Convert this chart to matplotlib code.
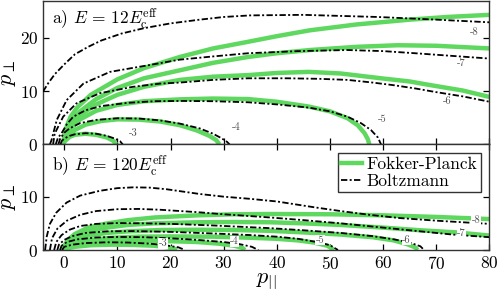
import matplotlib
matplotlib.use("Agg")
import matplotlib.pyplot as plt
import numpy as np
from matplotlib.lines import Line2D

plt.rcParams['font.family'] = ['cmr10', 'DejaVu Serif']
plt.rcParams['mathtext.fontset'] = 'cm'
plt.rcParams['axes.formatter.use_mathtext'] = True
plt.rcParams['axes.unicode_minus'] = False

# ---------------- data: panel a (E = 12 Ec_eff) ----------------
a_levels = [-3, -4, -5, -6, -7, -8]

a_bz_m3 = [(-0.7, 0), (-0.5, 0.6), (0, 1.1), (1, 1.6), (2, 1.9), (4, 2.1), (6, 2.0), (8, 1.6), (9.5, 1.1), (10.5, 0.6), (11.0, 0)]
a_bz_m4 = [(-1.1, 0), (-0.8, 1.0), (0, 2.2), (1, 3.0), (3, 4.0), (6, 4.6), (10, 4.9), (14, 4.85), (18, 4.5), (21.75, 3.9), (25.5, 3.0), (28, 2.0), (29.5, 1.2), (30.6, 0.5), (31.1, 0)]
a_bz_m5 = [(-1.6, 0), (-1.2, 1.2), (-0.5, 2.1), (0.5, 3.8), (1.7, 5.2), (4, 6.4), (7, 7.2), (12, 7.8), (17, 8.1), (22, 8.15), (28, 8.1), (34.6, 7.9), (40, 7.5), (46, 6.9), (50, 6.2), (53.3, 5.2), (55.8, 4.0), (57.7, 2.7), (59.0, 1.3), (59.6, 0)]
a_bz_m6 = [(-2.1, 0), (-1.8, 2.0), (-0.2, 5.2), (2.3, 7.7), (6.7, 9.6), (12.9, 10.8), (18, 11.4), (21.75, 11.6), (28, 12.1), (34.6, 12.4), (42, 12.4), (48, 12.3), (53.3, 12.1), (58, 11.6), (62, 11.1), (66, 10.5), (70, 9.8), (75, 9.0), (80, 8.0)]
a_bz_m7 = [(-2.7, 0), (-2.4, 0.8), (-1.4, 4.6), (0.45, 8.3), (3.6, 11.4), (8.6, 13.6), (16.1, 14.9), (21.75, 15.9), (28, 16.5), (34.6, 17.1), (44, 17.5), (53.3, 17.7), (60, 17.5), (66, 17.1), (73, 16.6), (80, 16.1)]
a_bz_m8 = [(-4, 9.9), (-3, 11.5), (-1.75, 13.2), (0, 15.0), (2, 16.9), (4.5, 18.3), (7, 19.5), (10.8, 20.8), (15, 21.8), (20, 22.7), (25.5, 23.4), (30, 23.9), (35, 24.2), (45, 24.3), (59, 23.9), (70, 23.4), (80, 22.9)]

a_fp_m3 = [(-0.2, 0), (0, 0.5), (1, 1.4), (2, 1.8), (4, 2.0), (6, 1.8), (8, 1.3), (9.2, 0.7), (9.8, 0)]
a_fp_m4 = [(-0.2, 0), (0, 0.5), (0.7, 1.5), (2, 2.7), (4, 3.7), (7, 4.4), (10, 4.7), (14, 4.65), (18, 4.3), (21.75, 3.6), (25, 2.6), (27.3, 1.6), (28.6, 0.8), (29.2, 0)]
a_fp_m5 = [(-0.2, 0), (0, 0.8), (0.6, 2.0), (1.5, 3.3), (3, 4.7), (6, 6.3), (10, 7.4), (15, 8.1), (21.75, 8.45), (28, 8.6), (34.6, 8.5), (40, 8.0), (46, 7.1), (50, 6.2), (53.3, 4.9), (55.2, 3.6), (56.5, 2.1), (57.1, 1.0), (57.4, 0)]
a_fp_m6 = [(-0.2, 0), (0, 1.0), (0.6, 2.5), (1.5, 4.0), (3, 5.5), (6, 7.5), (10, 9.3), (15, 10.8), (21.75, 12.1), (28, 12.7), (34.6, 13.0), (40, 13.4), (46, 13.6), (52, 13.3), (59.6, 12.4), (65, 11.8), (69, 11.1), (75, 10.1), (80, 8.9)]
a_fp_m7 = [(-0.2, 0), (0, 1.2), (0.5, 3.0), (1.5, 4.6), (3, 6.2), (6, 8.5), (10, 10.6), (15, 12.4), (21.75, 13.9), (28, 15.3), (34.6, 16.4), (40, 17.1), (46.2, 17.7), (55, 18.3), (62.7, 18.6), (70, 18.5), (80, 18.0)]
a_fp_m8 = [(-0.2, 0), (0, 1.5), (0.5, 3.5), (1.2, 5.2), (2.5, 7.0), (5, 9.3), (10, 12.2), (15, 14.3), (21.75, 16.4), (28, 18.0), (34.6, 19.25), (40, 20.3), (46.2, 21.4), (55, 22.5), (65, 23.4), (72, 23.9), (80, 24.3)]

a_label_pos = [(13.0, 2.1), (32.4, 3.3), (59.9, 4.7), (72.1, 8.0), (74.6, 15.2), (77.1, 21.1)]

# ---------------- data: panel b (E = 120 Ec_eff) ----------------
b_levels = [-3, -4, -5, -6, -7, -8]

b_bz_m3 = [(-0.4, 0), (0, 0.6), (1.5, 1.0), (4, 1.3), (8, 1.45), (12, 1.4), (16, 1.2), (19, 0.9), (21.5, 0.5), (22.7, 0)]
b_bz_m4 = [(-0.8, 0), (-0.5, 0.8), (0.5, 1.5), (2.5, 2.0), (6, 2.35), (10, 2.45), (15, 2.4), (20, 2.2), (25, 1.9), (30, 1.5), (33, 1.1), (35.3, 0.6), (36.5, 0)]
b_bz_m5 = [(-1.3, 0), (-1.0, 1.0), (0, 1.9), (1.5, 2.6), (4, 3.2), (8, 3.5), (13, 3.55), (20, 3.4), (28, 3.1), (35, 2.8), (40, 2.5), (44, 2.1), (47.5, 1.5), (50, 0.9), (51.5, 0)]
b_bz_m6 = [(-1.9, 0), (-1.5, 1.5), (-0.5, 2.8), (1, 3.8), (3, 4.5), (6, 4.9), (10, 5.05), (15, 5.0), (20, 4.9), (28, 4.6), (38.7, 4.1), (45, 3.7), (52, 3.2), (58, 2.6), (62, 2.0), (65, 1.4), (67, 0.7), (67.7, 0)]
b_bz_m7 = [(-2.7, 0), (-2.3, 2.2), (-1.3, 4.0), (0.5, 5.5), (3, 6.6), (6, 7.3), (10, 7.65), (14, 7.7), (18, 7.55), (25, 7.1), (30, 6.7), (38.7, 6.1), (45, 5.6), (52, 5.0), (60, 4.2), (67, 3.5), (73, 2.9), (80, 2.4)]
b_bz_m8 = [(-3.6, 0), (-3.3, 2.5), (-2.7, 4.9), (-1.5, 7.0), (0.45, 8.9), (3, 10.2), (6.7, 11.1), (10, 11.6), (13, 11.75), (16, 11.7), (19.2, 11.4), (25.5, 10.5), (30, 10.0), (34.9, 9.6), (40, 9.1), (47.1, 8.0), (52, 7.3), (57.4, 6.6), (63, 6.0), (70, 5.5), (75, 5.2), (80, 4.9)]

b_fp_m3 = [(-0.1, 0), (0.5, 0.3), (2, 0.6), (5, 0.9), (9, 1.0), (13, 0.95), (17, 0.8), (19.5, 0.5), (20.8, 0.2), (21.2, 0)]
b_fp_m4 = [(-0.2, 0), (0.5, 0.5), (2, 0.9), (5, 1.3), (10, 1.6), (15, 1.7), (20, 1.65), (25, 1.5), (29, 1.2), (32, 0.8), (33.5, 0.4), (34, 0)]
b_fp_m5 = [(-0.2, 0), (0, 0.4), (1, 0.9), (2.5, 1.4), (5, 1.9), (9, 2.3), (14, 2.5), (20, 2.55), (28, 2.5), (35, 2.3), (40, 2.1), (44, 1.8), (47, 1.4), (49.5, 0.8), (50.8, 0)]
b_fp_m6 = [(-0.2, 0), (0, 0.5), (0.8, 1.2), (2, 1.9), (4.5, 2.7), (8, 3.2), (12, 3.5), (18, 3.75), (25, 3.8), (32, 3.75), (38.7, 3.6), (45, 3.3), (52, 2.9), (58, 2.4), (62, 1.8), (64.5, 1.1), (66, 0.5), (66.5, 0)]
b_fp_m7 = [(-0.2, 0), (0, 0.6), (0.8, 1.6), (2, 2.5), (4.5, 3.5), (8, 4.2), (12, 4.7), (17, 5.0), (25, 5.2), (32, 5.25), (38.7, 5.2), (45, 5.0), (52, 4.7), (60, 4.2), (67, 3.7), (73.8, 3.3), (80, 2.7)]
b_fp_m8 = [(-0.2, 0), (0, 0.8), (0.8, 2.0), (2, 3.0), (4.5, 4.2), (7.6, 4.9), (12, 5.6), (17, 6.1), (25, 6.5), (32, 6.7), (38.7, 6.75), (50, 6.7), (60, 6.5), (70, 6.2), (80, 5.8)]

b_label_pos = [(18.6, 1.25), (32.0, 1.6), (48.1, 1.9), (64.4, 1.9), (74.7, 3.1), (77.5, 5.6)]

x_ticks = [0, 10, 20, 30, 40, 50, 60, 70, 80]
a_yticks = [0, 10, 20]
b_yticks = [0, 10]
xlim = (-4, 80)
a_ylim = (0, 26.9)
b_ylim = (0, 19.8)
panel_a_title = r"a) $E\,=\,12E_{\mathrm{c}}^{\mathrm{eff}}$"
panel_b_title = r"b) $E\,=\,120E_{\mathrm{c}}^{\mathrm{eff}}$"
legend_labels = ['Fokker-Planck', 'Boltzmann']

# ---------------- styles ----------------
GREEN = '#5fd85f'
FP_LW = 3.2
BZ_LW = 1.3
BZ_DASH = (0, (3.5, 1.3, 1.1, 1.3))

fig = plt.figure(figsize=(4.98, 2.92), dpi=100)
ax_a = fig.add_axes([0.0863, 0.5055, 0.8966, 0.4911])
ax_b = fig.add_axes([0.0863, 0.1438, 0.8966, 0.3617])


def draw(ax, fps, bzs, labels, label_pos):
    for c in fps:
        arr = np.array(c)
        ax.plot(arr[:, 0], arr[:, 1], color=GREEN, lw=FP_LW, solid_capstyle='butt', zorder=2)
    for c in bzs:
        arr = np.array(c)
        ax.plot(arr[:, 0], arr[:, 1], color='black', lw=BZ_LW, linestyle=BZ_DASH, zorder=3)
    for lv, (x, y) in zip(labels, label_pos):
        ax.text(x, y, str(lv), fontsize=7.5, color='0.3', ha='center', va='center', zorder=4,
                bbox=dict(facecolor='white', edgecolor='none', pad=0.3))


draw(ax_a, [a_fp_m3, a_fp_m4, a_fp_m5, a_fp_m6, a_fp_m7, a_fp_m8],
     [a_bz_m3, a_bz_m4, a_bz_m5, a_bz_m6, a_bz_m7, a_bz_m8], a_levels, a_label_pos)
draw(ax_b, [b_fp_m3, b_fp_m4, b_fp_m5, b_fp_m6, b_fp_m7, b_fp_m8],
     [b_bz_m3, b_bz_m4, b_bz_m5, b_bz_m6, b_bz_m7, b_bz_m8], b_levels, b_label_pos)

for ax in (ax_a, ax_b):
    ax.set_xlim(*xlim)
    ax.set_xticks(x_ticks)
    ax.tick_params(direction='in', length=4, width=0.9, labelsize=12.5, right=True)
    for s in ax.spines.values():
        s.set_linewidth(1.0)
        s.set_color('0.2')

ax_a.set_ylim(*a_ylim)
ax_a.set_yticks(a_yticks)
ax_a.tick_params(labelbottom=False, top=False)
ax_b.set_ylim(*b_ylim)
ax_b.set_yticks(b_yticks)
ax_b.tick_params(top=True)

ax_a.set_ylabel(r"$p_\perp$", fontsize=16, labelpad=1)
ax_b.set_ylabel(r"$p_\perp$", fontsize=16, labelpad=1)
ax_b.set_xlabel(r"$p_{||}$", fontsize=16, labelpad=0)

ax_a.text(0.02, 0.965, panel_a_title, transform=ax_a.transAxes, fontsize=12.5, va='top', ha='left')
ax_b.text(0.02, 0.92, panel_b_title, transform=ax_b.transAxes, fontsize=12.5, va='top', ha='left')

handles = [Line2D([], [], color=GREEN, lw=FP_LW),
           Line2D([], [], color='black', lw=BZ_LW, linestyle=BZ_DASH)]
leg = ax_b.legend(handles, legend_labels, loc='upper right', fontsize=12.5,
                  frameon=True, fancybox=False, edgecolor='0.2', framealpha=1,
                  borderaxespad=0.5, handlelength=1.2, handletextpad=0.25,
                  borderpad=0.2, labelspacing=0.1)
leg.get_frame().set_linewidth(1.0)

fig.savefig('out.png', dpi=100)
